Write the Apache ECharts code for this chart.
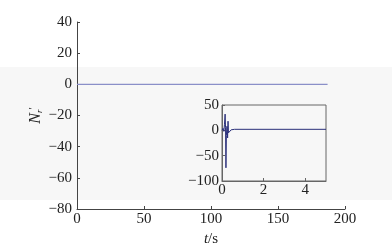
<!DOCTYPE html>
<html><head><meta charset="utf-8">
<script src="https://cdn.jsdelivr.net/npm/echarts@6/dist/echarts.min.js"></script>
<style>html,body{margin:0;padding:0;background:#fff}#c{width:392px;height:252px}</style>
</head><body><div id="c"></div>
<script>
// Main plot data
var mainT = [0, 187];
var mainV = [0, 0];
var mainYTicks = [-80, -60, -40, -20, 0, 20, 40];
var mainXTicks = [0, 50, 100, 150, 200];
// Inset data (zoom of first 5 s)
var insetT = [0, 0.05, 0.09, 0.12, 0.15, 0.17, 0.19, 0.21, 0.24, 0.27, 0.29, 0.31, 0.34, 0.38, 0.44, 0.52, 0.6, 5];
var insetV = [0, 4, -2, 12, 32, 5, -74, -10, 8, -15, 18, -5, -8, -2, 1, 2, 2, 2];
var insetYTicks = [-100, -50, 0, 50];
var insetXTicks = [0, 2, 4];

function pairs(t, v){ return t.map(function(x,i){return [x, v[i]];}); }
function fmt(v){ return String(v).replace('-', '\u2212'); }

var font = '"Liberation Serif","DejaVu Serif",serif';
var fs = 15;
var chart = echarts.init(document.getElementById('c'), null, {renderer:'canvas'});
chart.setOption({
  animation:false,
  backgroundColor:'#fff',
  graphic:[{type:'rect', z:-10, shape:{x:0,y:67,width:392,height:133}, style:{fill:'#f7f7f7'}, silent:true}],
  grid:[
    {left:77, right:47, top:22, bottom:43, show:false},
    {left:222, right:66, top:105, bottom:71, show:true, borderColor:'#666', borderWidth:1, backgroundColor:'transparent'}
  ],
  xAxis:[
    {gridIndex:0, type:'value', min:mainXTicks[0], max:mainXTicks[mainXTicks.length-1], interval:50,
     axisLine:{onZero:false, lineStyle:{color:'#444'}}, axisTick:{inside:true, length:3, lineStyle:{color:'#444'}},
     splitLine:{show:false},
     axisLabel:{color:'#222', fontFamily:font, fontSize:fs, margin:3, formatter:fmt},
     name:'{i|t}{n|/s}', nameLocation:'middle', nameGap:19,
     nameTextStyle:{rich:{i:{fontFamily:font, fontStyle:'italic', fontSize:fs, color:'#222'}, n:{fontFamily:font, fontSize:fs, color:'#222'}}}},
    {gridIndex:1, type:'value', min:0, max:5, interval:2,
     axisLine:{onZero:false, lineStyle:{color:'#666'}}, axisTick:{inside:true, length:3, lineStyle:{color:'#666'}},
     splitLine:{show:false},
     axisLabel:{color:'#222', fontFamily:font, fontSize:fs, margin:2, showMaxLabel:false, formatter:fmt}}
  ],
  yAxis:[
    {gridIndex:0, type:'value', min:mainYTicks[0], max:mainYTicks[mainYTicks.length-1], interval:20,
     axisLine:{show:true, onZero:false, lineStyle:{color:'#444'}}, axisTick:{show:true, inside:true, length:3, lineStyle:{color:'#444'}},
     splitLine:{show:false},
     axisLabel:{color:'#222', fontFamily:font, fontSize:fs, margin:5, formatter:fmt},
     name:'{i|N}{s|r}{p|′}', nameLocation:'middle', nameGap:33, nameRotate:90, nameMoveOverlap:false,
     nameTextStyle:{padding:[0,0,0,0], rich:{i:{fontFamily:font, fontStyle:'italic', fontSize:16, color:'#222'},
                          s:{fontFamily:font, fontStyle:'italic', fontSize:9, color:'#222', verticalAlign:'bottom', padding:[6,0,0,0]},
                          p:{fontFamily:font, fontSize:11, color:'#222', verticalAlign:'top'}}}},
    {gridIndex:1, type:'value', min:-100, max:50, interval:50,
     axisLine:{show:true, onZero:false, lineStyle:{color:'#666'}}, axisTick:{show:true, inside:true, length:3, lineStyle:{color:'#666'}},
     splitLine:{show:false},
     axisLabel:{color:'#222', fontFamily:font, fontSize:fs, margin:3, formatter:fmt}}
  ],
  series:[
    {type:'line', xAxisIndex:0, yAxisIndex:0, data:pairs(mainT, mainV), symbol:'none',
     lineStyle:{color:'#8a8fc8', width:1.2}},
    {type:'line', xAxisIndex:1, yAxisIndex:1, data:pairs(insetT, insetV), symbol:'none',
     lineStyle:{color:'#2a2f7a', width:1}}
  ]
});
</script></body></html>
